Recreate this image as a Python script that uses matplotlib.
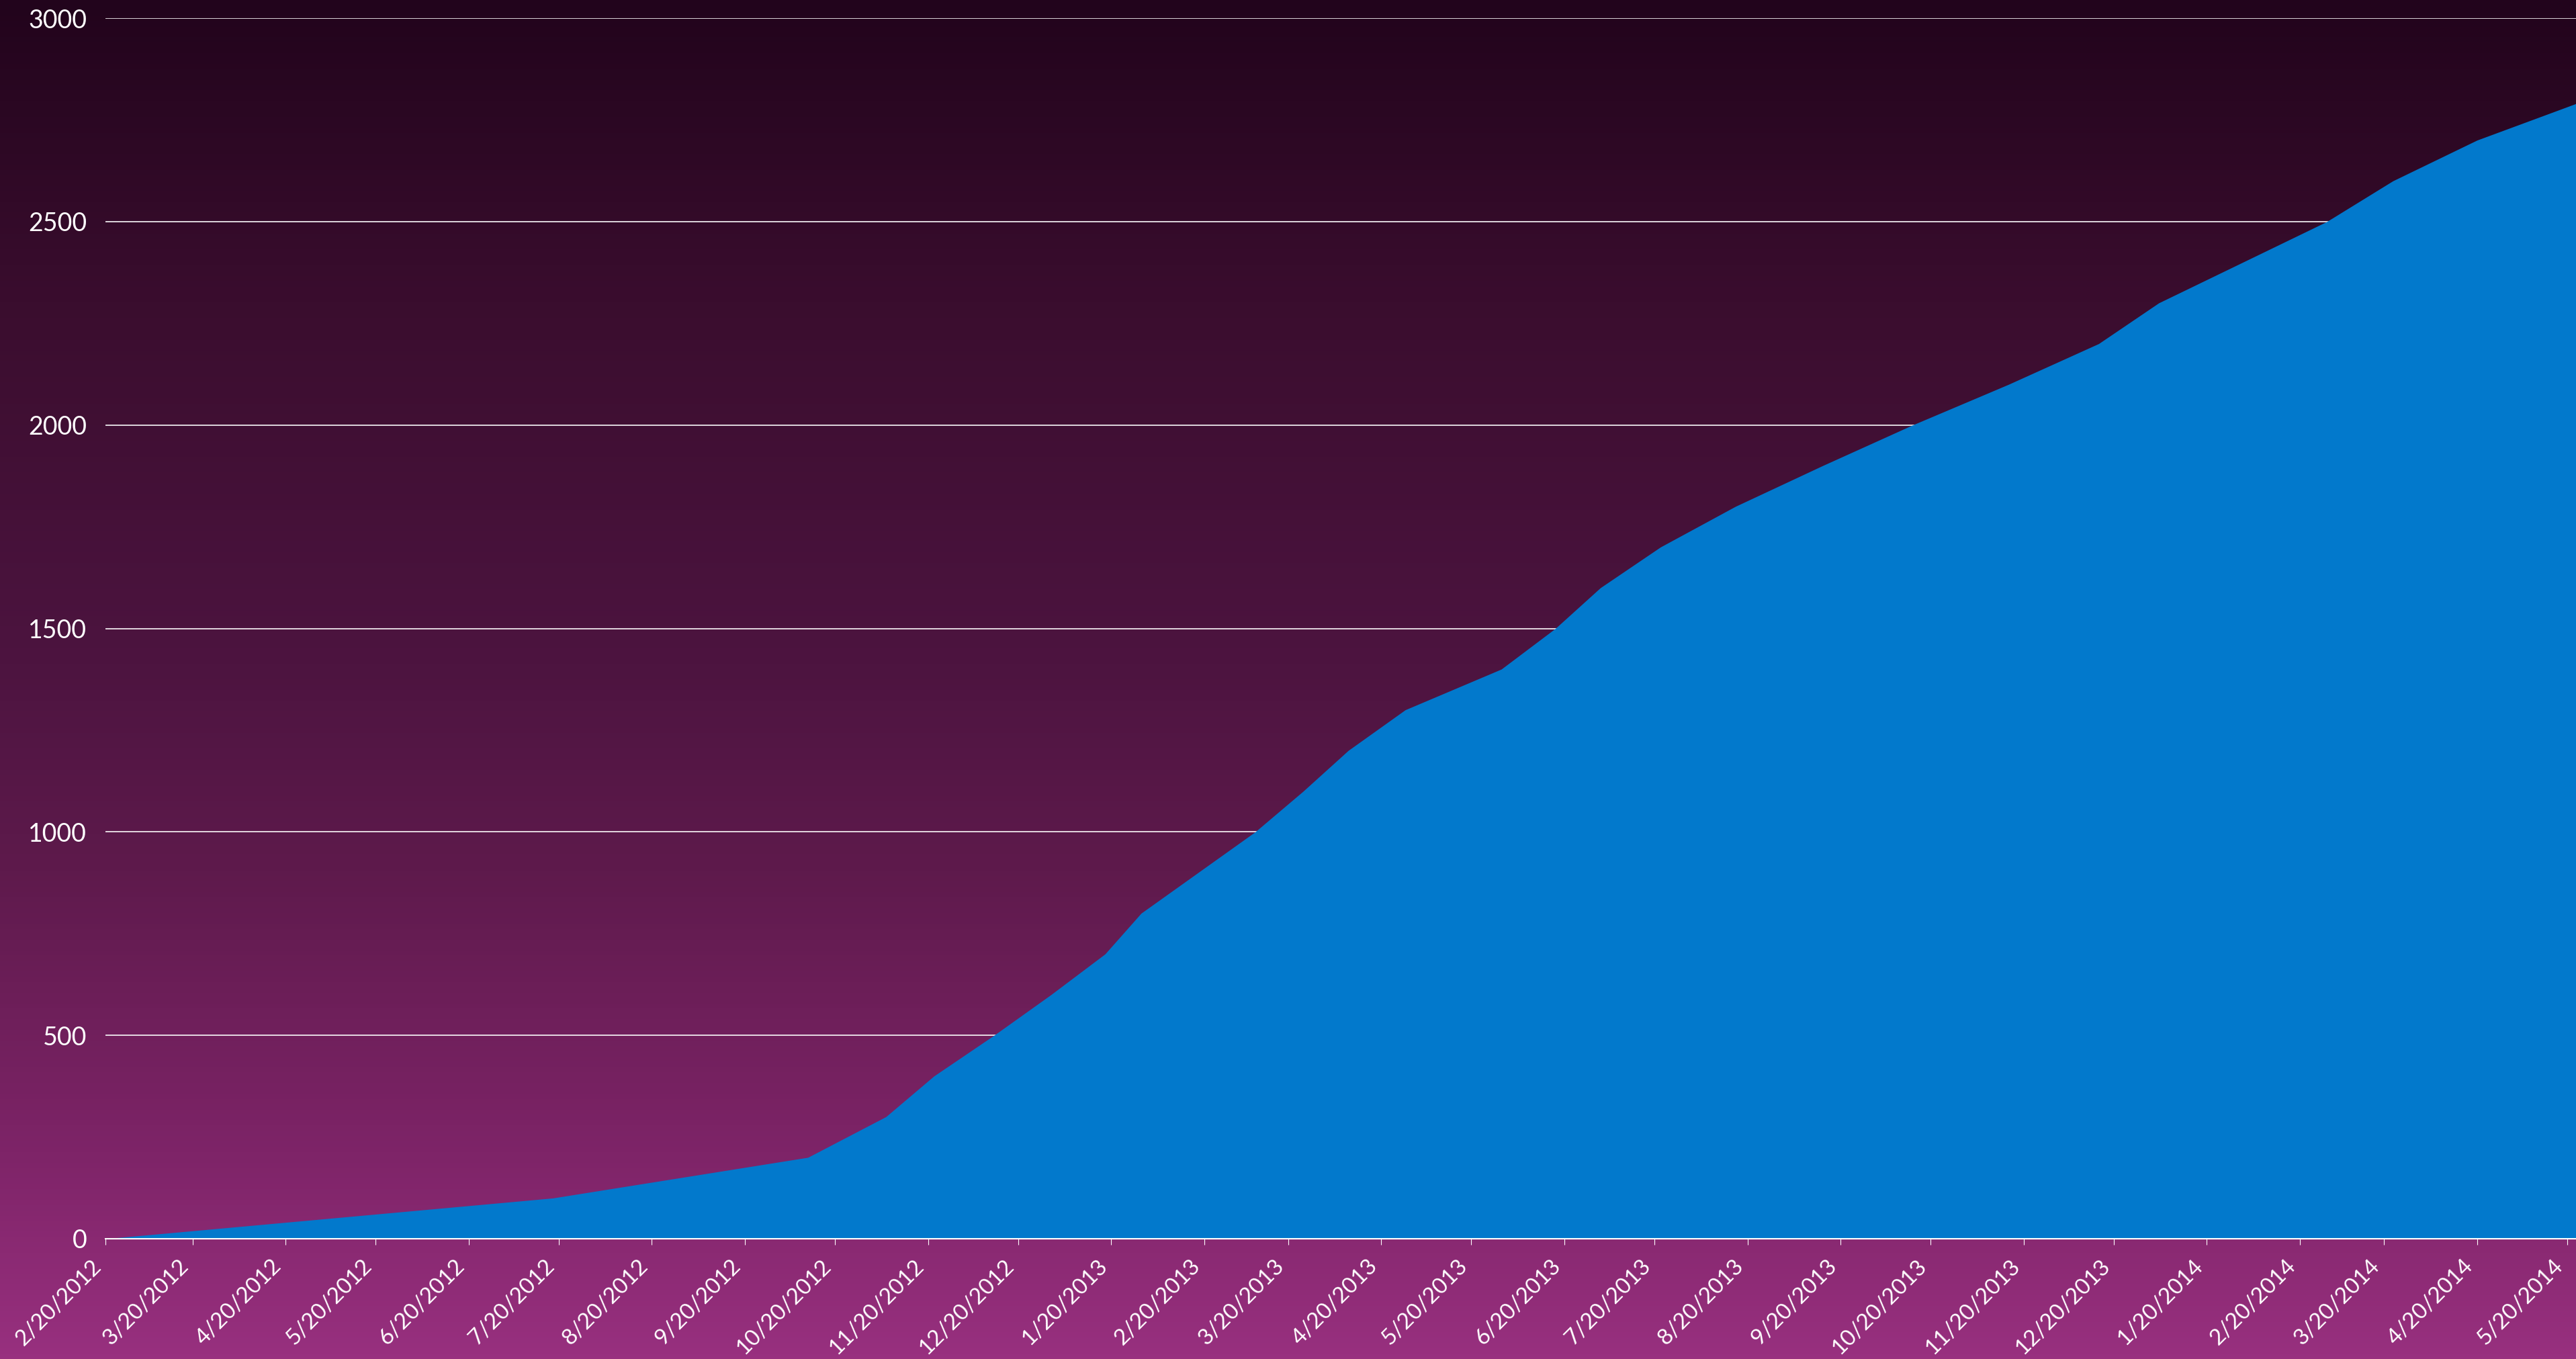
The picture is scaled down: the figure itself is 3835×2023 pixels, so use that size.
import numpy as np
import pandas as pd
import matplotlib
matplotlib.use("Agg")
import matplotlib.pyplot as plt
from matplotlib.colors import LinearSegmentedColormap

# ======== Data ======== #
dates = [
    "2012-02-20", "2012-07-18", "2012-10-11", "2012-11-06", "2012-11-22",
    "2012-12-12", "2012-12-31", "2013-01-18", "2013-01-30", "2013-02-18",
    "2013-03-09", "2013-03-25", "2013-04-09", "2013-04-28", "2013-05-30",
    "2013-06-17", "2013-07-02", "2013-07-22", "2013-08-16", "2013-09-14",
    "2013-10-14", "2013-11-15", "2013-12-15", "2014-01-04", "2014-02-01",
    "2014-03-01", "2014-03-23", "2014-04-20", "2014-05-23",
]
members = [
    0, 100, 200, 300, 400,
    500, 600, 700, 800, 900,
    1000, 1100, 1200, 1300, 1400,
    1500, 1600, 1700, 1800, 1900,
    2000, 2100, 2200, 2300, 2400,
    2500, 2600, 2700, 2790,
]
y_ticks = [0, 500, 1000, 1500, 2000, 2500, 3000]
tick_start = "2012-02-20"
tick_end = "2014-05-20"

x = pd.to_datetime(dates)
tick_dates = pd.date_range(tick_start, tick_end, freq=pd.DateOffset(months=1))
tick_labels = [f"{d.month}/{d.day}/{d.year}" for d in tick_dates]

plt.rcParams["font.family"] = ["Lato", "DejaVu Sans"]

fig = plt.figure(figsize=(38.35, 20.23), dpi=100)

# ======== Background gradient ======== #
bg = LinearSegmentedColormap.from_list("bg", [
    (0.00, "#22041c"),
    (0.22, "#3a0d2e"),
    (0.49, "#4d1440"),
    (0.64, "#5e1a4c"),
    (0.85, "#7e2468"),
    (1.00, "#98307f"),
])
bg_ax = fig.add_axes([0, 0, 1, 1], zorder=0)
bg_ax.imshow(np.linspace(0, 1, 512).reshape(-1, 1), aspect="auto", cmap=bg,
             extent=[0, 1, 0, 1], origin="upper")
bg_ax.axis("off")

# ======== Area chart ======== #
ax = fig.add_axes([157 / 3835, 1 - 1844 / 2023, 1 - 157 / 3835, (1844 - 27) / 2023],
                  zorder=1)
ax.patch.set_alpha(0)
ax.fill_between(x, members, 0, color="#0279cc", linewidth=0, zorder=2)

ax.set_xlim(x[0], x[-1])
ax.set_ylim(0, 3000)
ax.set_yticks(y_ticks)
ax.set_yticklabels([str(v) for v in y_ticks])
ax.set_xticks(tick_dates)
ax.set_xticklabels(tick_labels, rotation=45, ha="right")

ax.set_axisbelow(True)
ax.yaxis.grid(True, color="white", linewidth=1.3, alpha=0.9)
ax.xaxis.grid(False)

for side in ["left", "top", "right"]:
    ax.spines[side].set_visible(False)
ax.spines["bottom"].set_color("white")
ax.spines["bottom"].set_linewidth(1.5)
ax.spines["bottom"].set_zorder(5)

ax.tick_params(axis="y", length=0, pad=20, labelsize=27, labelcolor="white")
ax.tick_params(axis="x", length=6.5, width=0.8, color="white", pad=12,
               labelsize=24, labelcolor="white")

fig.savefig("out.png", dpi=100)
